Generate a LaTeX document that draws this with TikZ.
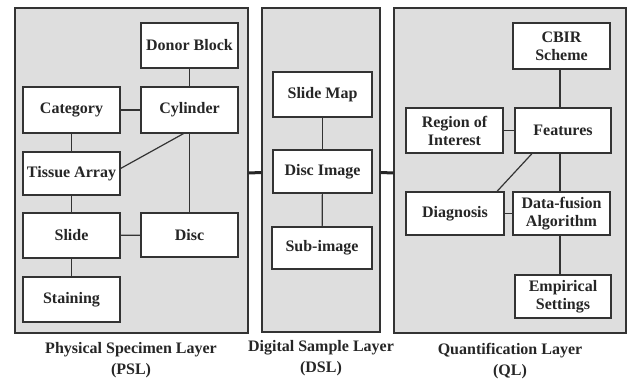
\documentclass[tikz,border=0pt]{standalone}
\usepackage{fontspec}
\setmainfont{Liberation Serif}
\begin{document}
\begin{tikzpicture}[x=1pt,y=-1pt,
  layer/.style={draw=black!80,line width=1.3pt,fill=black!13,inner sep=0pt},
  box/.style={draw=black!80,line width=1.2pt,fill=white,inner sep=0pt,minimum width=97pt,minimum height=45pt,align=center,font=\fontsize{16}{18}\selectfont\bfseries,text=black!85},
  link/.style={draw=black!80,line width=1.2pt},
  bridge/.style={draw=black!85,line width=3pt},
  captxt/.style={align=center,font=\fontsize{16}{21}\selectfont\bfseries,text=black!85}]
\useasboundingbox (0,0) rectangle (629,382);
% layers
\node[layer,minimum width=233pt,minimum height=325pt] (psl) at (131.5,170.5) {};
\node[layer,minimum width=118pt,minimum height=324pt] (dsl) at (321,170) {};
\node[layer,minimum width=232pt,minimum height=325pt] (ql) at (510,170.5) {};
% PSL
\node[box] (donor) at (189.5,45.5) {Donor Block};
\node[box,minimum height=46pt] (cyl) at (189.5,110) {Cylinder};
\node[box,minimum height=46pt] (cat) at (71.5,110) {Category};
\node[box,minimum height=43pt] (tis) at (71.5,173.5) {Tissue Array};
\node[box] (slide) at (71.5,235.5) {Slide};
\node[box,minimum height=44pt] (disc) at (189.5,235) {Disc};
\node[box] (stain) at (71.5,299.5) {Staining};
% DSL
\node[box,minimum width=99pt] (smap) at (322.5,94.5) {Slide Map};
\node[box,minimum width=99pt,minimum height=43pt] (dimg) at (322.5,171.5) {Disc Image};
\node[box,minimum width=100pt,minimum height=42pt] (sub) at (322,248) {Sub-image};
% QL
\node[box,minimum height=46pt] (cbir) at (561.5,46) {CBIR\\Scheme};
\node[box,minimum width=96pt] (feat) at (563,130.5) {Features};
\node[box] (roi) at (454.5,130.5) {Region of\\Interest};
\node[box,minimum width=98pt,minimum height=43pt] (diag) at (455,213.5) {Diagnosis};
\node[box,minimum height=43pt] (dfa) at (561.5,213.5) {Data-fusion\\Algorithm};
\node[box,minimum width=96pt,minimum height=43pt] (emp) at (563,296.5) {Empirical\\Settings};
% PSL links
\draw[link] (donor) -- (cyl);
\draw[link] (cat) -- (cyl);
\draw[link] (cat) -- (tis);
\draw[link] ([xshift=-6pt]cyl.south) -- ([yshift=5pt]tis.east);
\draw[link] (cyl) -- (disc);
\draw[link] (tis) -- (slide);
\draw[link] (slide) -- (disc);
\draw[link] (slide) -- (stain);
% DSL links
\draw[link] (smap) -- (dimg);
\draw[link] (dimg) -- (sub);
% QL links
\draw[link] ([xshift=-1.5pt]cbir.south) -- ([xshift=-3pt]feat.north);
\draw[link] (roi) -- (feat);
\draw[link] ([xshift=-31pt]feat.south) -- ([xshift=42pt]diag.north);
\draw[link] ([xshift=-3pt]feat.south) -- ([xshift=-1.5pt]dfa.north);
\draw[link] (diag) -- (dfa);
\draw[link] ([xshift=-1.5pt]dfa.south) -- ([xshift=-3pt]emp.north);
% bridges
\draw[bridge] ([yshift=-2.5pt]psl.east) -- ([yshift=-2.5pt]dsl.west);
\draw[bridge] ([yshift=-2.5pt]dsl.east) -- ([yshift=-2.5pt]ql.west);
% captions
\node[captxt] (pslcap) at (131,360.5) {Physical Specimen Layer\\(PSL)};
\node[captxt] (dslcap) at (321,358.5) {Digital Sample Layer\\(DSL)};
\node[captxt] (qlcap) at (510,361) {Quantification Layer\\(QL)};
\end{tikzpicture}
\end{document}
